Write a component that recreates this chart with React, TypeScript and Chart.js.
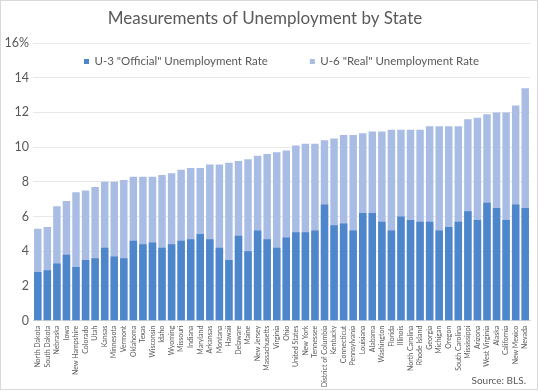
import React, { useEffect, useRef } from 'react';
import { Chart, registerables } from 'chart.js';

Chart.register(...registerables);

const states = [
  'North Dakota', 'South Dakota', 'Nebraska', 'Iowa', 'New Hampshire', 'Colorado', 'Utah', 'Kansas',
  'Minnesota', 'Vermont', 'Oklahoma', 'Texas', 'Wisconsin', 'Idaho', 'Wyoming', 'Missouri', 'Indiana',
  'Maryland', 'Arkansas', 'Montana', 'Hawaii', 'Delaware', 'Maine', 'New Jersey', 'Massachusetts',
  'Virginia', 'Ohio', 'United States', 'New York', 'Tennessee', 'District of Columbia', 'Kentucky',
  'Connecticut', 'Pennsylvania', 'Louisiana', 'Alabama', 'Washington', 'Florida', 'Illinois',
  'North Carolina', 'Rhode Island', 'Georgia', 'Michigan', 'Oregon', 'South Carolina', 'Mississippi',
  'Arizona', 'West Virginia', 'Alaska', 'California', 'New Mexico', 'Nevada',
];

const u3Official = [
  2.8, 2.9, 3.3, 3.8, 3.1, 3.5, 3.6, 4.2, 3.7, 3.6, 4.6, 4.4, 4.5, 4.2, 4.4, 4.6, 4.7, 5.0, 4.7, 4.2,
  3.5, 4.9, 4.0, 5.2, 4.7, 4.2, 4.8, 5.1, 5.1, 5.2, 6.7, 5.5, 5.6, 5.2, 6.2, 6.2, 5.7, 5.2, 6.0, 5.8,
  5.7, 5.7, 5.2, 5.4, 5.7, 6.3, 5.8, 6.8, 6.5, 5.8, 6.7, 6.5,
];

const u6Real = [
  5.3, 5.4, 6.6, 6.9, 7.4, 7.5, 7.7, 8.0, 8.0, 8.1, 8.3, 8.3, 8.3, 8.4, 8.5, 8.7, 8.8, 8.8, 9.0, 9.0,
  9.1, 9.2, 9.3, 9.5, 9.6, 9.7, 9.8, 10.1, 10.2, 10.2, 10.4, 10.5, 10.7, 10.7, 10.8, 10.9, 10.9, 11.0,
  11.0, 11.0, 11.0, 11.2, 11.2, 11.2, 11.2, 11.6, 11.7, 11.9, 12.0, 12.0, 12.4, 13.4,
];

const seriesLabels = ['U-3 "Official" Unemployment Rate', 'U-6 "Real" Unemployment Rate'];
const titleText = 'Measurements of Unemployment by State';
const sourceText = 'Source: BLS.';
const yMin = 0;
const yMax = 16;
const yStep = 2;

const FONT = 'Lato, "Open Sans", sans-serif';
const TEXT = '#595959';
const W = 539;
const H = 391;

const decorPlugin = {
  id: 'decor',
  beforeDraw(chart: any) {
    const ctx = chart.ctx;
    ctx.save();
    ctx.fillStyle = '#ffffff';
    ctx.fillRect(0, 0, chart.width, chart.height);
    ctx.strokeStyle = '#d9d9d9';
    ctx.lineWidth = 1;
    ctx.strokeRect(0.5, 0.5, chart.width - 2, chart.height - 2);
    ctx.restore();
  },
  afterDraw(chart: any) {
    const ctx = chart.ctx;
    const area = chart.chartArea;
    ctx.save();
    // legend
    ctx.font = `11.5px ${FONT}`;
    ctx.textBaseline = 'middle';
    ctx.textAlign = 'left';
    const box = 5;
    const gap = 5.5;
    const spacing = 42;
    const ds = chart.data.datasets;
    const widths = ds.map((d: any) => box + gap + ctx.measureText(d.label).width);
    const total = widths.reduce((a: number, b: number) => a + b, 0) + spacing * (ds.length - 1);
    let x = (area.left + area.right) / 2 - total / 2;
    const y = 61.5;
    ds.forEach((d: any, i: number) => {
      ctx.fillStyle = d.backgroundColor;
      ctx.fillRect(x, y - box / 2, box, box);
      ctx.fillStyle = TEXT;
      ctx.fillText(d.label, x + box + gap, y);
      x += widths[i] + spacing;
    });
    // source
    ctx.font = `10px ${FONT}`;
    ctx.textAlign = 'right';
    ctx.fillStyle = TEXT;
    ctx.fillText(sourceText, 526, 380.5);
    ctx.restore();
  },
};

export default function App() {
  const ref = useRef<HTMLCanvasElement>(null);

  useEffect(() => {
    document.body.style.margin = '0';
    const canvas = ref.current;
    if (!canvas) return;
    const chart = new Chart(canvas, {
      type: 'bar',
      data: {
        labels: states,
        datasets: [
          {
            label: seriesLabels[0],
            data: u3Official,
            backgroundColor: '#4e86cb',
            grouped: false,
            barPercentage: 0.78,
            categoryPercentage: 1,
          } as any,
          {
            label: seriesLabels[1],
            data: u6Real,
            backgroundColor: '#a9bde4',
            grouped: false,
            barPercentage: 0.78,
            categoryPercentage: 1,
          } as any,
        ],
      },
      options: {
        responsive: false,
        animation: false,
        layout: { padding: { left: 0, right: 9, top: 0, bottom: 0 } },
        plugins: {
          legend: { display: false },
          tooltip: { enabled: false },
          title: {
            display: true,
            text: titleText,
            color: TEXT,
            font: { family: FONT, size: 17, weight: 'normal', lineHeight: 1.2 },
            padding: { top: 8, bottom: 14.6 },
          },
        },
        scales: {
          x: {
            grid: { display: false, drawTicks: false },
            border: { color: '#d9d9d9' },
            ticks: {
              autoSkip: false,
              minRotation: 90,
              maxRotation: 90,
              padding: 5,
              color: TEXT,
              font: { family: FONT, size: 7 },
            },
            afterFit(scale: any) {
              scale.height = 70.3;
            },
          },
          y: {
            min: yMin,
            max: yMax,
            grid: { color: '#e8e8e8', drawTicks: false },
            border: { display: false },
            ticks: {
              stepSize: yStep,
              padding: 4,
              color: TEXT,
              font: { family: FONT, size: 12.5 },
              callback: (v: any) => (Number(v) === yMax ? `${v}%` : `${v}`),
            },
            afterFit(scale: any) {
              scale.width = 33;
            },
          },
        },
      },
      plugins: [decorPlugin],
    });
    return () => chart.destroy();
  }, []);

  return <canvas ref={ref} width={W} height={H} style={{ display: 'block' }} />;
}
